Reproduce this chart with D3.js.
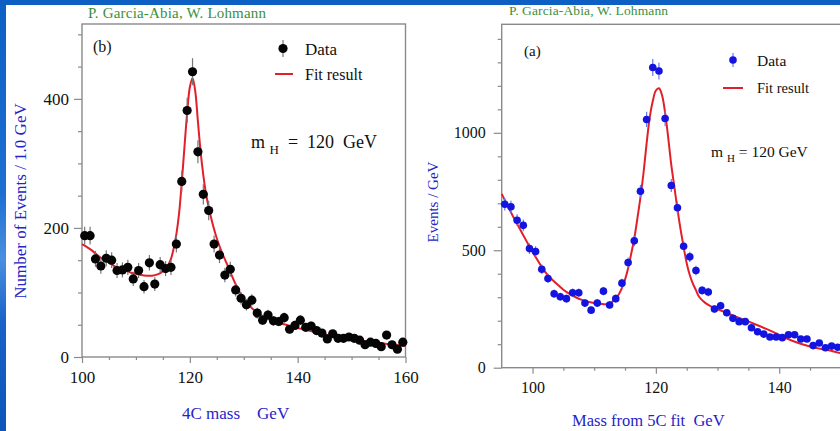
<!DOCTYPE html>
<html>
<head>
<meta charset="utf-8">
<script src="https://cdn.jsdelivr.net/npm/d3@7"></script>
<style>
  body { margin: 0; background: #fff; }
  svg { display: block; }
  text { font-family: "Liberation Serif", "DejaVu Serif", serif; }
</style>
</head>
<body>
<svg width="840" height="431"></svg>
<script>
// ---- panel (b): 4C mass ----
var binsB = [100.5,101.5,102.5,103.5,104.5,105.5,106.5,107.5,108.5,109.5,110.5,111.5,112.5,113.5,114.5,115.5,116.5,117.5,118.5,119.5,
             120.5,121.5,122.5,123.5,124.5,125.5,126.5,127.5,128.5,129.5,130.5,131.5,132.5,133.5,134.5,135.5,136.5,137.5,138.5,139.5,
             140.5,141.5,142.5,143.5,144.5,145.5,146.5,147.5,148.5,149.5,150.5,151.5,152.5,153.5,154.5,155.5,156.5,157.5,158.5,159.5];
var eventsB = [188,188,152,141,153,150,134,135,139,121,134,109,146,113,143,137,139,175,272,382,
               442,318,252,227,175,158,127,136,104,91,81,88,68,57,65,56,55,61,43,49,
               57,46,48,41,37,28,36,29,29,31,29,26,19,23,21,16,34,19,12,23];
var fitMassB = [100,101,102,103,104,105,106,107,108,109,110,111,112,113,114,115,116,
                116.5,117,117.5,118,118.5,119,119.5,120,120.5,121,121.5,122,122.5,123,123.5,124,124.5,125,125.5,
                126,127,128,129,130,131,132,133,134,135,136,137,138,139,140,
                142,144,146,148,150,152,154,156,158,160];
var fitB = [175,170,164,157,151,146,141,137,134,131,129,127,126,126,128,133,143,
            152,168,190,222,270,325,378,418,432,412,365,318,282,253,232,214,198,184,172,
            161,142,122,104,90,80,72,66,61,58,55,52,49.5,47,45,
            41,37,33,30,27,25,23.5,21,19,17];
var xTicksB = [100,120,140,160];
var yTicksB = [0,200,400];

// ---- panel (a): mass from 5C fit ----
var binsA = [95.5,96.5,97.5,98.5,99.5,100.5,101.5,102.5,103.5,104.5,105.5,106.5,107.5,108.5,109.5,110.5,111.5,112.5,113.5,114.5,
             115.5,116.5,117.5,118.5,119.5,120.5,121.5,122.5,123.5,124.5,125.5,126.5,127.5,128.5,129.5,130.5,131.5,132.5,133.5,134.5,
             135.5,136.5,137.5,138.5,139.5,140.5,141.5,142.5,143.5,144.5,145.5,146.5,147.5,148.5,149.5];
var eventsA = [696,685,628,606,507,495,419,380,315,302,294,319,319,275,245,275,326,267,294,360,
               448,540,751,1057,1278,1263,1061,776,681,517,472,414,329,322,250,264,234,210,196,196,
               170,153,143,131,131,128,140,140,122,122,94,105,85,92,87];
var fitMassA = [95,96,97,98,99,100,101,102,103,104,105,106,107,108,109,110,111,112,113,114,
                114.5,115,115.5,116,116.5,117,117.5,118,118.5,119,119.5,120,120.5,121,121.5,122,122.5,123,123.5,124,124.5,125,125.5,126,126.5,127,
                128,129,130,132,134,136,138,140,142,144,146,148,150,152];
var fitA = [740,688,636,588,540,493,450,409,380,355,332,314,300,289,281,275,272,270,282,313,
            340,375,423,485,550,635,725,830,955,1065,1135,1180,1190,1160,1085,980,863,770,675,590,515,445,395,358,330,302,
            276,260,249,228,207,186,164,140,116,98,84,74,62,52];
var xTicksA = [100,120,140];
var yTicksA = [0,500,1000];

var svg = d3.select("svg");

// slide background
var defs = svg.append("defs");
var grad = defs.append("linearGradient").attr("id", "side").attr("x1", 0).attr("y1", 0).attr("x2", 0).attr("y2", 1);
grad.append("stop").attr("offset", "0%").attr("stop-color", "#0d5fc4");
grad.append("stop").attr("offset", "45%").attr("stop-color", "#1d6fd2");
grad.append("stop").attr("offset", "60%").attr("stop-color", "#4a8fe0");
grad.append("stop").attr("offset", "75%").attr("stop-color", "#1862c8");
grad.append("stop").attr("offset", "100%").attr("stop-color", "#0b56b8");
svg.append("rect").attr("width", 840).attr("height", 431).attr("fill", "url(#side)");
svg.append("rect").attr("width", 840).attr("height", 5).attr("fill", "#0d5fc4");
svg.append("rect").attr("x", 6).attr("y", 5).attr("width", 834).attr("height", 426).attr("fill", "#fff");

var line = d3.line().curve(d3.curveCatmullRom);

function drawPanel(p) {
    var g = svg.append("g");
    var x = p.x, y = p.y;
    var x0 = x.range()[0], x1 = x.range()[1];
    var y0 = y.range()[0], y1 = y.range()[1];

    // frame
    g.append("rect")
        .attr("x", x0).attr("y", y1)
        .attr("width", x1 - x0).attr("height", y0 - y1)
        .attr("fill", "none").attr("stroke", "#8a8a8a").attr("stroke-width", 1.4);

    // minor + major ticks
    var xMinor = g.append("g").attr("transform", "translate(0," + y0 + ")")
        .call(d3.axisBottom(x).tickValues(p.xMinor).tickSize(3).tickFormat(""));
    var xMajor = g.append("g").attr("transform", "translate(0," + y0 + ")")
        .call(d3.axisBottom(x).tickValues(p.xTicks).tickSize(6).tickPadding(8).tickFormat(d3.format("d")));
    var yMinor = g.append("g").attr("transform", "translate(" + x0 + ",0)")
        .call(d3.axisLeft(y).tickValues(p.yMinor).tickSize(4).tickFormat(""));
    var yMajor = g.append("g").attr("transform", "translate(" + x0 + ",0)")
        .call(d3.axisLeft(y).tickValues(p.yTicks).tickSize(8).tickPadding(p.yPad).tickFormat(d3.format("d")));
    [xMinor, xMajor, yMinor, yMajor].forEach(function(a) {
        a.select(".domain").remove();
        a.selectAll("line").attr("stroke", "#8a8a8a").attr("stroke-width", 1.2);
        a.selectAll("text").attr("fill", "#111").style("font-family", "Liberation Serif").style("font-size", p.tickFont + "px");
    });

    // fit curve
    g.append("path")
        .datum(p.fitMass.map(function(m, i) { return [x(m), y(p.fit[i])]; }))
        .attr("d", line)
        .attr("fill", "none").attr("stroke", "#e2202c").attr("stroke-width", 2);

    // data with error bars
    var pts = g.append("g").selectAll("g")
        .data(p.bins.map(function(m, i) { return {m: m, v: p.events[i]}; }))
        .enter().append("g");
    pts.append("line")
        .attr("x1", function(d) { return x(d.m); })
        .attr("x2", function(d) { return x(d.m); })
        .attr("y1", function(d) { return y(d.v + p.errScale * Math.sqrt(d.v)); })
        .attr("y2", function(d) { return y(d.v - p.errScale * Math.sqrt(d.v)); })
        .attr("stroke", p.errColor).attr("stroke-width", 1.2);
    pts.append("circle")
        .attr("cx", function(d) { return x(d.m); })
        .attr("cy", function(d) { return y(d.v); })
        .attr("r", p.r)
        .attr("fill", p.dotColor);
    return g;
}

// panel (b)
var xB = d3.scaleLinear().domain([100, 160]).range([82, 405.5]);
var yB = d3.scaleLinear().domain([0, 516]).range([357, 24]);
drawPanel({
    x: xB, y: yB, xTicks: xTicksB, yTicks: yTicksB,
    xMinor: [105,110,115,125,130,135,145,150,155],
    yMinor: [50,100,150,250,300,350,450,500],
    yPad: 5, tickFont: 17,
    bins: binsB, events: eventsB, fitMass: fitMassB, fit: fitB,
    r: 4.6, dotColor: "#050505", errColor: "#777", errScale: 1
});

// panel (a)
var xA = d3.scaleLinear().domain([95, 155]).range([501.7, 871.7]);
var yA = d3.scaleLinear().domain([0, 1462]).range([367.7, 24.3]);
drawPanel({
    x: xA, y: yA, xTicks: xTicksA, yTicks: yTicksA,
    xMinor: [105,110,115,125,130,135,145,150],
    yMinor: [100,200,300,400,600,700,800,900,1100,1200,1300,1400],
    yPad: 8, tickFont: 16,
    bins: binsA, events: eventsA, fitMass: fitMassA, fit: fitA,
    r: 3.8, dotColor: "#1414e0", errColor: "#6a78e8", errScale: 1
});

// texts
function txt(x, y, s, size, color, anchor) {
    return svg.append("text").attr("x", x).attr("y", y)
        .attr("font-size", size).attr("fill", color || "#111")
        .attr("text-anchor", anchor || "start")
        .style("white-space", "pre")
        .text(s);
}

// authors
txt(88, 18, "P. Garcia-Abia, W. Lohmann", 15, "#3c8f3c").attr("textLength", 178);
txt(509, 15, "P. Garcia-Abia, W. Lohmann", 13.5, "#3c8f3c").attr("textLength", 159);

// panel labels
txt(93, 52, "(b)", 16);
txt(524, 56, "(a)", 15);

// legend (b)
svg.append("line").attr("x1", 283).attr("x2", 283).attr("y1", 40).attr("y2", 57).attr("stroke", "#777").attr("stroke-width", 1.2);
svg.append("circle").attr("cx", 283).attr("cy", 48.5).attr("r", 4.6).attr("fill", "#050505");
txt(305, 55, "Data", 17);
svg.append("line").attr("x1", 275).attr("x2", 293).attr("y1", 74).attr("y2", 74).attr("stroke", "#e2202c").attr("stroke-width", 2);
txt(305, 80, "Fit result", 16);

// legend (a)
svg.append("line").attr("x1", 733).attr("x2", 733).attr("y1", 53).attr("y2", 67).attr("stroke", "#6a78e8").attr("stroke-width", 1.2);
svg.append("circle").attr("cx", 733).attr("cy", 60).attr("r", 3.8).attr("fill", "#1414e0");
txt(757, 66, "Data", 15.5);
svg.append("line").attr("x1", 723).attr("x2", 743).attr("y1", 88).attr("y2", 88).attr("stroke", "#e2202c").attr("stroke-width", 2);
txt(757, 93, "Fit result", 14.5);

// m_H annotations
var mb = svg.append("text").attr("x", 251).attr("y", 148).attr("font-size", 18).attr("fill", "#111").style("white-space", "pre");
mb.append("tspan").text("m ");
mb.append("tspan").attr("dy", 6).attr("font-size", 13).text("H");
mb.append("tspan").attr("dy", -6).text("  =  120  GeV");

var ma = svg.append("text").attr("x", 711).attr("y", 157).attr("font-size", 15.5).attr("fill", "#111").style("white-space", "pre");
ma.append("tspan").text("m ");
ma.append("tspan").attr("dy", 5).attr("font-size", 11).text("H");
ma.append("tspan").attr("dy", -5).text(" = 120 GeV");

// axis titles
txt(0, 0, "Number of Events / 1.0 GeV", 17, "#2424c8", "middle")
    .attr("transform", "translate(26,201) rotate(-90)");
txt(182, 419, "4C mass    GeV", 17, "#2424c8");
txt(0, 0, "Events / GeV", 15, "#2424c8", "middle")
    .attr("transform", "translate(438,202) rotate(-90)");
txt(572, 426, "Mass from 5C fit  GeV", 16.5, "#2424c8");
</script>
</body>
</html>
